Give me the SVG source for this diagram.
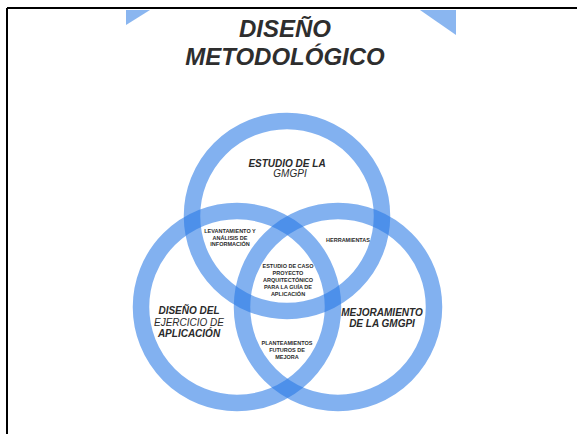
<svg xmlns="http://www.w3.org/2000/svg" width="577" height="434" viewBox="0 0 577 434">
<style>
.ring{fill:none;stroke:rgb(40,120,230);stroke-opacity:0.58;stroke-width:16.5}
.title{font-family:"Liberation Sans",Arial,sans-serif;font-weight:bold;font-style:italic;font-size:24px;fill:#2e2e2e;text-anchor:middle}
.big{font-family:"Liberation Sans",Arial,sans-serif;font-weight:bold;font-style:italic;font-size:10px;fill:#2a2a2a;text-anchor:middle}
.small{font-family:"Liberation Sans",Arial,sans-serif;font-weight:bold;font-size:5.5px;fill:#2a2a2a;text-anchor:middle}
.corner{fill:#8ab6f0}
</style>
<rect width="577" height="434" fill="#fff"/>
<g id="frame">
<line x1="7" y1="8" x2="577" y2="8" stroke="#000" stroke-width="2"/>
<line x1="7" y1="8" x2="7" y2="434" stroke="#000" stroke-width="2"/>
</g>
<g id="corners">
<polygon class="corner" points="126,10 150,10 126,25"/>
<polygon class="corner" points="420,10 456,10 456,35"/>
</g>
<g id="title">
<text class="title" x="285" y="37">DISEÑO</text>
<text class="title" x="285" y="65">METODOLÓGICO</text>
</g>
<g id="connectors"></g>
<g id="circle-top"><circle class="ring" cx="287" cy="216" r="95"/></g>
<g id="circle-left"><circle class="ring" cx="237" cy="307" r="96"/></g>
<g id="circle-right"><circle class="ring" cx="338" cy="307" r="96"/></g>
<g id="label-estudio">
<text class="big" x="287" y="167">ESTUDIO DE LA</text>
<text class="big" x="290" y="177" style="font-weight:normal">GMGPI</text>
</g>
<g id="label-diseno">
<text class="big" x="189" y="314">DISEÑO DEL</text>
<text class="big" x="189" y="326" style="font-weight:normal">EJERCICIO DE</text>
<text class="big" x="189" y="337">APLICACIÓN</text>
</g>
<g id="label-mejoramiento">
<text class="big" x="382" y="316">MEJORAMIENTO</text>
<text class="big" x="382" y="327">DE LA GMGPI</text>
</g>
<g id="label-levantamiento">
<text class="small" x="230" y="233">LEVANTAMIENTO Y</text>
<text class="small" x="230" y="240">ANÁLISIS DE</text>
<text class="small" x="230" y="246">INFORMACIÓN</text>
</g>
<g id="label-herramientas">
<text class="small" x="348" y="242">HERRAMIENTAS</text>
</g>
<g id="label-caso">
<text class="small" x="288" y="268">ESTUDIO DE CASO</text>
<text class="small" x="288" y="275">PROYECTO</text>
<text class="small" x="288" y="282">ARQUITECTÓNICO</text>
<text class="small" x="288" y="289">PARA LA GUÍA DE</text>
<text class="small" x="288" y="296">APLICACIÓN</text>
</g>
<g id="label-planteamientos">
<text class="small" x="287" y="345">PLANTEAMIENTOS</text>
<text class="small" x="287" y="352">FUTUROS DE</text>
<text class="small" x="287" y="358.5">MEJORA</text>
</g>
</svg>
